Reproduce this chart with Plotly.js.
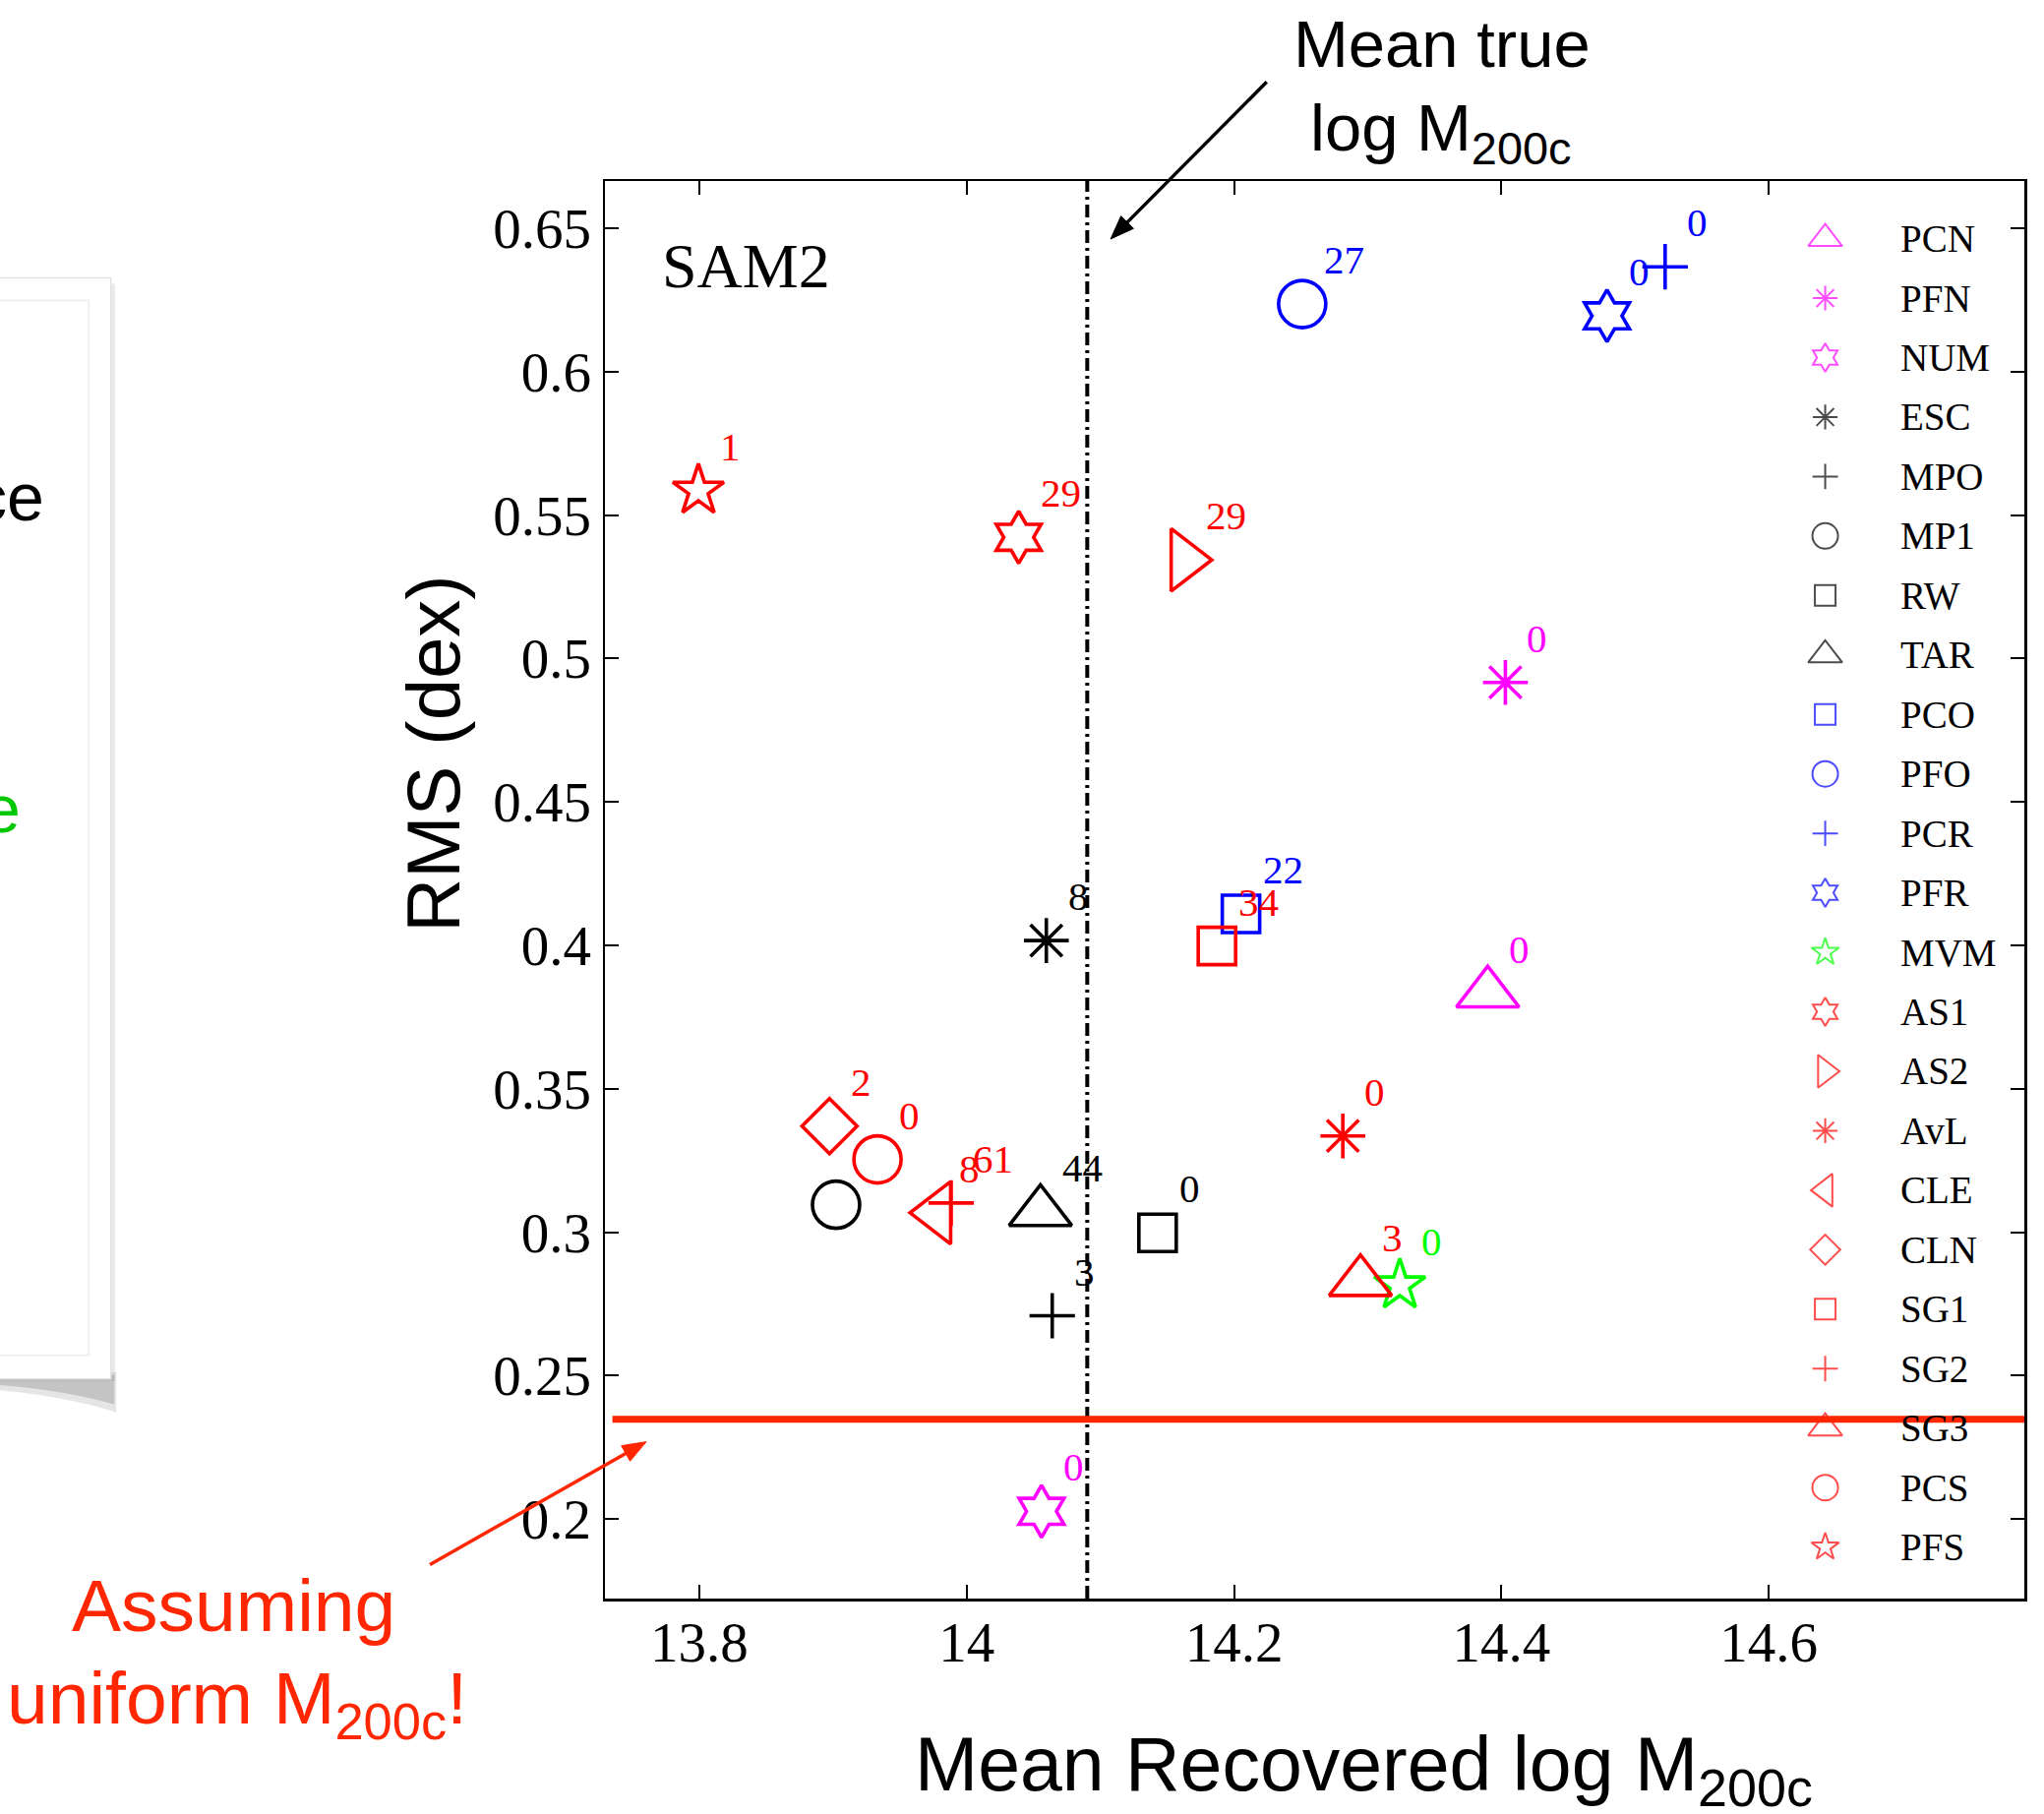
<!DOCTYPE html>
<html>
<head>
<meta charset="utf-8">
<script src="https://cdn.plot.ly/plotly-3.0.1.min.js"></script>
<style>
html, body { margin: 0; padding: 0; background: #ffffff; }
#chart { width: 2078px; height: 1844px; }
</style>
</head>
<body>
<div id="chart"></div>
<script>
// ---------------- data ----------------
const methods = ['PCN','PFN','NUM','ESC','MPO','MP1','RW','TAR','PCO','PFO','PCR','PFR','MVM','AS1','AS2','AvL','CLE','CLN','SG1','SG2','SG3','PCS','PFS'];
const meanRecoveredLogM = [14.3898,14.403,14.056,14.0596,14.064,13.9023,14.1428,14.0552,14.2052,14.251,14.5225,14.479,14.324,14.0389,14.1631,14.2814,13.9779,13.8974,14.1872,13.9884,14.2946,13.9333,13.7993];
const rmsDex = [0.3833,0.4917,0.2027,0.4017,0.2709,0.3096,0.2998,0.3071,0.4110,0.6236,0.6366,0.6195,0.2815,0.5423,0.5344,0.3336,0.3068,0.3370,0.3998,0.3102,0.2827,0.3254,0.5586];
const pointLabels = ['0','0','0','8','3',null,'0','44','22','27','0','0','0','29','29','0','8','2','34','61','3','0','1'];
const methodColors = ['#ff00ff','#ff00ff','#ff00ff','#000000','#000000','#000000','#000000','#000000','#0000ff','#0000ff','#0000ff','#0000ff','#00ff00','#ff0000','#ff0000','#ff0000','#ff0000','#ff0000','#ff0000','#ff0000','#ff0000','#ff0000','#ff0000'];
const methodSymbols = ['triangle-up','asterisk','hexagram','asterisk','cross-thin','circle','square','triangle-up','square','circle','cross-thin','hexagram','star','hexagram','triangle-right','asterisk','triangle-left','diamond','square','cross-thin','triangle-up','circle','star'];

const xTickVals = [13.8, 14, 14.2, 14.4, 14.6];
const xTickText = ['13.8', '14', '14.2', '14.4', '14.6'];
const yTickVals = [0.2, 0.25, 0.3, 0.35, 0.4, 0.45, 0.5, 0.55, 0.6, 0.65];
const yTickText = ['0.2', '0.25', '0.3', '0.35', '0.4', '0.45', '0.5', '0.55', '0.6', '0.65'];

const meanTrueLogM = 14.0902;      // vertical dash-dot line
const uniformRMS = 0.2348;         // red horizontal line
const uniformLineStart = 13.735;

const xRange = [13.7294, 14.7912];
const yRange = [0.1723, 0.6665];

// ---------------- styles ----------------
const SERIF = 'Liberation Serif, Times New Roman, serif';
const SANS = 'Liberation Sans, Arial, Helvetica, sans-serif';
const KEYNOTE_RED = '#ff2600';

const plotSize = {'triangle-up':55,'triangle-right':55,'triangle-left':55,'asterisk':38,'hexagram':40,'cross-thin':33,'circle':48,'square':38,'star':39,'diamond':43};
const legendSize = {'triangle-up':30,'triangle-right':29,'triangle-left':29,'asterisk':21,'hexagram':22,'cross-thin':18.5,'circle':26,'square':21,'star':21,'diamond':23.5};

const W = 2078, H = 1844;
const M = {l: 615, r: 19.5, t: 183.5, b: 218.5};
const PW = W - M.l - M.r, PH = H - M.t - M.b;
const px = X => (X - M.l) / PW;           // pixel -> paper x
const py = Y => (H - M.b - Y) / PH;       // pixel -> paper y

// legend layout (auxiliary axes)
const legFirstY = 242.1, legStep = 60.5;
const legY2Range = [(H - M.b - legFirstY) / legStep, (M.t - legFirstY) / legStep];
const legSymX = px(1856), legTextX = px(1930);

// ---------------- traces ----------------
const traces = methods.map((name, i) => ({
  type: 'scatter', mode: 'markers', name: name,
  x: [meanRecoveredLogM[i]], y: [rmsDex[i]],
  xaxis: 'x', yaxis: 'y', showlegend: false, hoverinfo: 'name+x+y',
  marker: {
    symbol: methodSymbols[i] + '-open', size: plotSize[methodSymbols[i]],
    color: methodColors[i], line: {color: methodColors[i], width: 3.6}
  }
}));

traces.push({
  type: 'scatter', mode: 'markers', name: 'legend',
  x: methods.map(() => legSymX), y: methods.map((_, i) => i),
  xaxis: 'x2', yaxis: 'y2', showlegend: false, hoverinfo: 'skip',
  marker: {
    symbol: methodSymbols.map(s => s + '-open'),
    size: methodSymbols.map(s => legendSize[s]),
    color: methodColors,
    line: {color: methodColors, width: 2}
  }
});

// ---------------- annotations ----------------
const annotations = [];
methods.forEach((name, i) => {
  if (pointLabels[i] === null) return;
  annotations.push({
    x: meanRecoveredLogM[i], y: rmsDex[i], xref: 'x', yref: 'y',
    text: pointLabels[i], showarrow: false, xanchor: 'left', yanchor: 'middle',
    xshift: 20, yshift: 45, font: {family: SERIF, size: 41, color: methodColors[i]}
  });
});
methods.forEach((name, i) => {
  annotations.push({
    x: legTextX, y: i, xref: 'x2', yref: 'y2', text: name, showarrow: false,
    xanchor: 'left', yanchor: 'middle', font: {family: SERIF, size: 39, color: '#000000'}
  });
});
annotations.push(
  {xref: 'paper', yref: 'paper', x: px(671), y: py(270), text: 'SAM2', showarrow: false,
   xanchor: 'left', yanchor: 'middle', font: {family: SERIF, size: 64, color: '#000000'}},
  {xref: 'paper', yref: 'paper', x: px(1386.5), y: py(1799), text: 'Mean Recovered log M<sub>200c</sub>', showarrow: false,
   xanchor: 'center', yanchor: 'middle', font: {family: SANS, size: 77, color: '#000000'}},
  {xref: 'paper', yref: 'paper', x: px(441), y: py(766.5), text: 'RMS (dex)', showarrow: false, textangle: -90,
   xanchor: 'center', yanchor: 'middle', font: {family: SANS, size: 76, color: '#000000'}},
  {xref: 'paper', yref: 'paper', x: px(1466), y: py(44), text: 'Mean true', showarrow: false,
   xanchor: 'center', yanchor: 'middle', font: {family: SANS, size: 67, color: '#000000'}},
  {xref: 'paper', yref: 'paper', x: px(1465.5), y: py(134), text: 'log M<sub>200c</sub>', showarrow: false,
   xanchor: 'center', yanchor: 'middle', font: {family: SANS, size: 67, color: '#000000'}},
  {xref: 'paper', yref: 'paper', x: px(237.5), y: py(1632.5), text: 'Assuming', showarrow: false,
   xanchor: 'center', yanchor: 'middle', font: {family: SANS, size: 75, color: KEYNOTE_RED}},
  {xref: 'paper', yref: 'paper', x: px(240.5), y: py(1732), text: 'uniform M<sub>200c</sub>!', showarrow: false,
   xanchor: 'center', yanchor: 'middle', font: {family: SANS, size: 75, color: KEYNOTE_RED}},
  {xref: 'paper', yref: 'paper', x: px(47), y: py(505), text: 'ce', showarrow: false,
   xanchor: 'right', yanchor: 'middle', font: {family: SANS, size: 68, color: '#000000'}},
  {xref: 'paper', yref: 'paper', x: px(23), y: py(822), text: 'e', showarrow: false,
   xanchor: 'right', yanchor: 'middle', font: {family: SANS, size: 68, color: '#00c800'}}
);

// ---------------- shapes ----------------
function arrowShapes(X0, Y0, X1, Y1, color, width, headLen, headHalf) {
  const dx = X1 - X0, dy = Y1 - Y0, L = Math.hypot(dx, dy);
  const ux = dx / L, uy = dy / L, nx = -uy, ny = ux;
  const bx = X1 - ux * headLen, by = Y1 - uy * headLen;
  return [
    {type: 'line', xref: 'paper', yref: 'paper', layer: 'above',
     x0: px(X0), y0: py(Y0), x1: px(bx + ux * 2), y1: py(by + uy * 2), line: {color: color, width: width}},
    {type: 'path', xref: 'paper', yref: 'paper', layer: 'above', fillcolor: color, line: {color: color, width: 1},
     path: `M ${px(X1)},${py(Y1)} L ${px(bx + nx * headHalf)},${py(by + ny * headHalf)} L ${px(bx - nx * headHalf)},${py(by - ny * headHalf)} Z`}
  ];
}

const shapes = [
  // slide panel shadow (bottom curl) and frame at the left
  {type: 'path', xref: 'paper', yref: 'paper', layer: 'below', line: {width: 0},
   fillcolor: 'rgba(0,0,0,0.10)',
   path: `M ${px(-20)},${py(1395)} L ${px(118)},${py(1395)} L ${px(118)},${py(1436)} Q ${px(60)},${py(1418)} ${px(-20)},${py(1412)} Z`},
  {type: 'path', xref: 'paper', yref: 'paper', layer: 'below', line: {width: 0},
   fillcolor: 'rgba(0,0,0,0.14)',
   path: `M ${px(-20)},${py(1398)} L ${px(116)},${py(1398)} L ${px(116)},${py(1428)} Q ${px(60)},${py(1412)} ${px(-20)},${py(1407)} Z`},
  {type: 'rect', xref: 'paper', yref: 'paper', layer: 'below', line: {width: 0},
   fillcolor: 'rgba(0,0,0,0.08)', x0: px(-20), x1: px(117), y0: py(1404), y1: py(288)},
  {type: 'rect', xref: 'paper', yref: 'paper', layer: 'below', line: {color: '#e2e2e2', width: 1.5},
   fillcolor: '#ffffff', x0: px(-20), x1: px(112.6), y0: py(1402), y1: py(282)},
  {type: 'rect', xref: 'paper', yref: 'paper', layer: 'below', line: {color: '#f0f0f0', width: 2},
   fillcolor: 'rgba(0,0,0,0)', x0: px(-20), x1: px(90), y0: py(1378), y1: py(305)},
  // mean true log M200c
  {type: 'line', xref: 'x', yref: 'paper', layer: 'below', x0: meanTrueLogM, x1: meanTrueLogM, y0: 0, y1: 1,
   line: {color: '#000000', width: 4, dash: '13px,5px,3px,5px'}},
  // assuming uniform M200c
  {type: 'line', xref: 'x', yref: 'y', layer: 'above', x0: uniformLineStart, x1: xRange[1], y0: uniformRMS, y1: uniformRMS,
   line: {color: KEYNOTE_RED, width: 7}}
].concat(
  arrowShapes(1288, 82.7, 1129.3, 242.5, '#000000', 3.5, 24, 9),
  arrowShapes(437, 1591, 657, 1466, KEYNOTE_RED, 3.5, 24, 9)
);

// ---------------- layout ----------------
const axisCommon = {
  showline: true, linecolor: '#000000', linewidth: 2.5, mirror: 'allticks',
  ticks: 'inside', ticklen: 14, tickwidth: 2, tickcolor: '#000000',
  showgrid: false, zeroline: false, fixedrange: true,
  tickfont: {family: SERIF, size: 57, color: '#000000'}
};

const layout = {
  width: W, height: H, margin: M,
  paper_bgcolor: '#ffffff', plot_bgcolor: '#ffffff',
  showlegend: false, hovermode: 'closest',
  xaxis: Object.assign({}, axisCommon, {range: xRange, tickmode: 'array', tickvals: xTickVals, ticktext: xTickText, ticklabelstandoff: -7}),
  yaxis: Object.assign({}, axisCommon, {range: yRange, tickmode: 'array', tickvals: yTickVals, ticktext: yTickText, ticklabelstandoff: 0}),
  xaxis2: {overlaying: 'x', anchor: 'y2', range: [0, 1], visible: false, fixedrange: true},
  yaxis2: {overlaying: 'y', anchor: 'x2', range: legY2Range, visible: false, fixedrange: true},
  shapes: shapes,
  annotations: annotations
};

Plotly.newPlot('chart', traces, layout, {displayModeBar: false, staticPlot: true});
</script>
</body>
</html>
